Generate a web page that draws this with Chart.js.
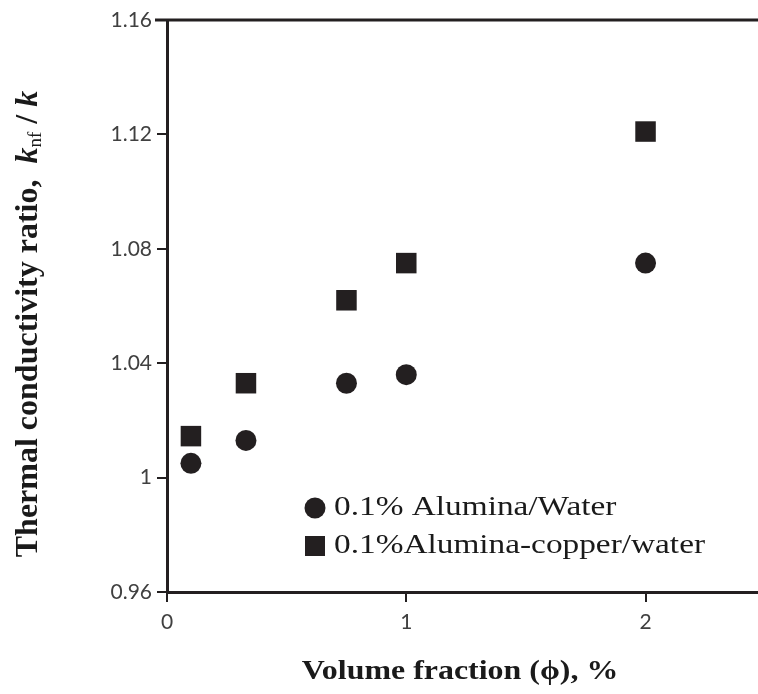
<!DOCTYPE html>
<html>
<head>
<meta charset="utf-8">
<script src="https://cdn.jsdelivr.net/npm/chart.js@4.4.1/dist/chart.umd.min.js"></script>
<style>
    html, body { margin: 0; padding: 0; background: #ffffff; }
    #wrap { width: 758px; height: 694px; }
</style>
</head>
<body>
<div id="wrap"><canvas id="chart" width="758" height="694"></canvas></div>
<script>
/* =========================
   DATA
========================= */

const seriesNames = ["0.1% Alumina/Water", "0.1%Alumina-copper/water"];

const fractionX = [0.1, 0.33, 0.75, 1.0, 2.0];
const aluminaWater = [1.005, 1.013, 1.033, 1.036, 1.075];
const hybridWater = [1.0145, 1.033, 1.062, 1.075, 1.121];

const xTicks = [0, 1, 2];
const yTicks = [0.96, 1.0, 1.04, 1.08, 1.12, 1.16];

/* =========================
   STYLE
========================= */

const ink = "#231f20";
const tickColor = "#404040";
const serif = "'Liberation Serif', 'Times New Roman', serif";

function points(xs, ys) {
    return xs.map((x, i) => ({ x: x, y: ys[i] }));
}

/* =========================
   EXTRA DRAWING
========================= */

const decorations = {
    id: "decorations",
    afterDraw(chart) {
        const ctx = chart.ctx;
        const area = chart.chartArea;

        // top frame line
        ctx.save();
        ctx.strokeStyle = ink;
        ctx.lineWidth = 3;
        ctx.beginPath();
        ctx.moveTo(area.left - 12, area.top);
        ctx.lineTo(area.right, area.top);
        ctx.stroke();
        ctx.restore();

        // legend inside the plot
        const sets = chart.data.datasets;
        const legendX = 315;
        const rowY = [508, 546];
        sets.forEach((ds, i) => {
            ctx.save();
            ctx.fillStyle = ink;
            if (ds.pointStyle === "rect") {
                ctx.fillRect(legendX - 10, rowY[i] - 10, 20, 20);
            } else {
                ctx.beginPath();
                ctx.arc(legendX, rowY[i], 10.5, 0, Math.PI * 2);
                ctx.fill();
            }
            ctx.fillStyle = "#1a1a1a";
            ctx.font = "28px " + serif;
            ctx.textBaseline = "middle";
            ctx.translate(legendX + 19, rowY[i]);
            ctx.scale(1.19, 1);
            ctx.fillText(ds.label, 0, 0);
            ctx.restore();
        });

        // y axis title with subscript
        ctx.save();
        ctx.translate(29, 324);
        ctx.rotate(-Math.PI / 2);
        ctx.fillStyle = "#1a1a1a";
        ctx.textBaseline = "middle";
        const parts = [
            { t: "Thermal conductivity ratio,  ", f: "bold 32px " + serif, dy: 0 },
            { t: "k", f: "italic bold 32px " + serif, dy: 0 },
            { t: "nf", f: "19px " + serif, dy: 7 },
            { t: " / ", f: "bold 32px " + serif, dy: 0 },
            { t: "k", f: "italic bold 32px " + serif, dy: 0 }
        ];
        let total = 0;
        parts.forEach(p => { ctx.font = p.f; total += ctx.measureText(p.t).width; });
        let cx = -total / 2;
        parts.forEach(p => {
            ctx.font = p.f;
            ctx.fillText(p.t, cx, p.dy);
            cx += ctx.measureText(p.t).width;
        });
        ctx.restore();

        // x axis title
        ctx.save();
        ctx.fillStyle = "#1a1a1a";
        ctx.font = "bold 28px " + serif;
        ctx.textAlign = "center";
        ctx.textBaseline = "middle";
        ctx.translate(460, 672);
        ctx.scale(1.14, 1);
        ctx.fillText("Volume fraction (\u03d5), %", 0, 0);
        ctx.restore();
    }
};

/* =========================
   CHART
========================= */

new Chart(document.getElementById("chart"), {
    type: "scatter",
    data: {
        datasets: [
            {
                label: seriesNames[0],
                data: points(fractionX, aluminaWater),
                pointStyle: "circle",
                pointRadius: 10.5,
                backgroundColor: ink,
                borderColor: ink,
                borderWidth: 0
            },
            {
                label: seriesNames[1],
                data: points(fractionX, hybridWater),
                pointStyle: "rect",
                pointRadius: 14.5,
                backgroundColor: ink,
                borderColor: ink,
                borderWidth: 0
            }
        ]
    },
    options: {
        responsive: false,
        animation: false,
        layout: {
            autoPadding: false,
            padding: { top: 20, right: 0, left: 0, bottom: 0 }
        },
        plugins: {
            legend: { display: false },
            tooltip: { enabled: false }
        },
        scales: {
            x: {
                type: "linear",
                min: 0,
                max: 2.47,
                afterBuildTicks: s => { s.ticks = xTicks.map(v => ({ value: v })); },
                afterFit: s => {
                    s.height = 102;
                    s.paddingLeft = 0;
                    s.paddingRight = 0;
                },
                ticks: {
                    color: tickColor,
                    font: { family: "Lato, 'Open Sans', sans-serif", size: 21 },
                    padding: 8,
                    callback: v => String(v)
                },
                grid: {
                    drawOnChartArea: false,
                    drawTicks: true,
                    tickLength: 10,
                    color: ink,
                    lineWidth: 2
                },
                border: { display: true, color: ink, width: 3 }
            },
            y: {
                min: 0.96,
                max: 1.16,
                afterBuildTicks: s => { s.ticks = yTicks.map(v => ({ value: v })); },
                afterFit: s => { s.width = 167; },
                ticks: {
                    color: tickColor,
                    font: { family: "Lato, 'Open Sans', sans-serif", size: 21 },
                    padding: 5,
                    callback: v => String(parseFloat(v.toFixed(2)))
                },
                grid: {
                    drawOnChartArea: false,
                    drawTicks: true,
                    tickLength: 10,
                    color: ink,
                    lineWidth: 2
                },
                border: { display: true, color: ink, width: 3 }
            }
        }
    },
    plugins: [decorations]
});
</script>
</body>
</html>
